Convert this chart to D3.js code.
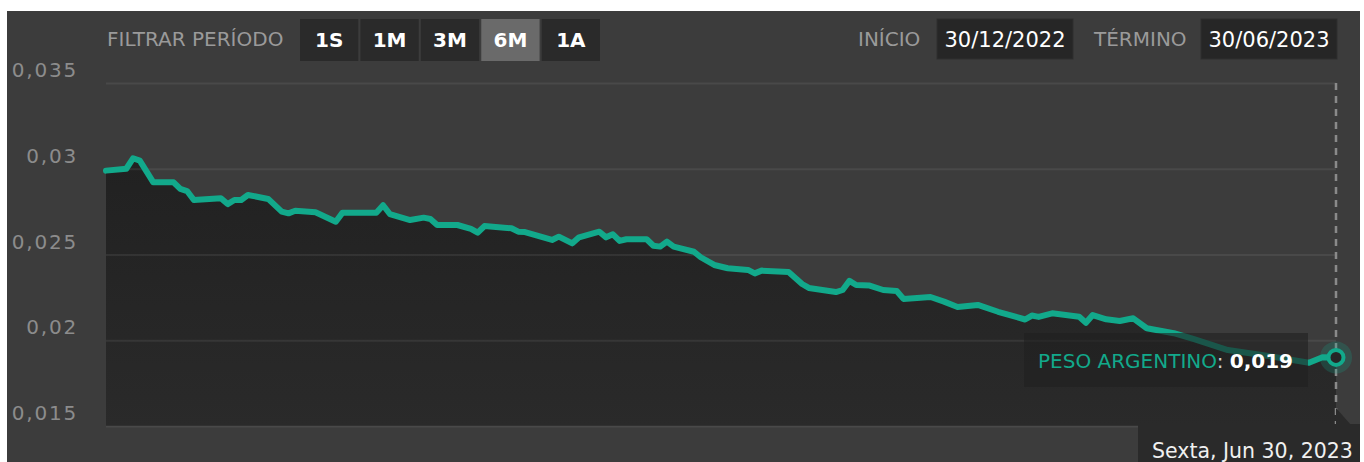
<!DOCTYPE html>
<html lang="pt-BR">
<head>
<meta charset="utf-8">
<title>Peso Argentino</title>
<script src="https://cdn.jsdelivr.net/npm/d3@7"></script>
<style>
  html, body { margin: 0; padding: 0; background: #ffffff; }
  svg { display: block; font-family: "DejaVu Sans", sans-serif; }
</style>
</head>
<body>
<div id="chart"></div>
<script>
// Daily quote of the Argentine peso (BRL per ARS), Dec 2022 - Jun 2023
const dates = [
  "2022-12-30", "2023-01-02", "2023-01-03", "2023-01-04", "2023-01-06", "2023-01-09",
  "2023-01-10", "2023-01-11", "2023-01-12", "2023-01-16", "2023-01-17", "2023-01-18",
  "2023-01-19", "2023-01-20", "2023-01-23", "2023-01-25", "2023-01-26", "2023-01-27",
  "2023-01-30", "2023-02-02", "2023-02-03", "2023-02-08", "2023-02-09", "2023-02-10",
  "2023-02-13", "2023-02-15", "2023-02-16", "2023-02-17", "2023-02-20", "2023-02-22",
  "2023-02-23", "2023-02-24", "2023-02-28", "2023-03-01", "2023-03-02", "2023-03-06",
  "2023-03-07", "2023-03-09", "2023-03-10", "2023-03-13", "2023-03-14", "2023-03-15",
  "2023-03-16", "2023-03-17", "2023-03-20", "2023-03-21", "2023-03-22", "2023-03-23",
  "2023-03-24", "2023-03-27", "2023-03-28", "2023-03-30", "2023-04-01", "2023-04-04",
  "2023-04-05", "2023-04-06", "2023-04-10", "2023-04-12", "2023-04-13", "2023-04-17",
  "2023-04-18", "2023-04-19", "2023-04-20", "2023-04-22", "2023-04-24", "2023-04-26",
  "2023-04-27", "2023-05-01", "2023-05-03", "2023-05-05", "2023-05-08", "2023-05-11",
  "2023-05-15", "2023-05-16", "2023-05-17", "2023-05-19", "2023-05-23", "2023-05-24",
  "2023-05-25", "2023-05-27", "2023-05-29", "2023-05-31", "2023-06-02", "2023-06-06",
  "2023-06-09", "2023-06-14", "2023-06-20", "2023-06-26", "2023-06-28", "2023-06-30"
];
const values = [
  0.02989, 0.03000, 0.03061, 0.03047, 0.02921, 0.02921,
  0.02882, 0.02870, 0.02818, 0.02828, 0.02794, 0.02818,
  0.02818, 0.02847, 0.02824, 0.02750, 0.02740, 0.02755,
  0.02746, 0.02691, 0.02744, 0.02744, 0.02787, 0.02736,
  0.02701, 0.02715, 0.02707, 0.02672, 0.02672, 0.02649,
  0.02627, 0.02666, 0.02653, 0.02633, 0.02631, 0.02585,
  0.02604, 0.02565, 0.02600, 0.02633, 0.02600, 0.02618,
  0.02579, 0.02589, 0.02589, 0.02551, 0.02546, 0.02575,
  0.02546, 0.02516, 0.02484, 0.02439, 0.02420, 0.02410,
  0.02390, 0.02406, 0.02398, 0.02328, 0.02305, 0.02281,
  0.02293, 0.02346, 0.02322, 0.02319, 0.02293, 0.02287,
  0.02241, 0.02252, 0.02225, 0.02194, 0.02206, 0.02166,
  0.02121, 0.02144, 0.02136, 0.02157, 0.02137, 0.02102,
  0.02147, 0.02122, 0.02112, 0.02128, 0.02070, 0.02041,
  0.02006, 0.01943, 0.01908, 0.01869, 0.01901, 0.01900
];
const yTicks = [0.015, 0.02, 0.025, 0.03, 0.035];
const periods = ["1S", "1M", "3M", "6M", "1A"];
const activePeriod = "6M";
const seriesName = "PESO ARGENTINO";
const filterLabel = "FILTRAR PERÍODO";
const startLabel = "INÍCIO";
const endLabel = "TÉRMINO";
const rangeStart = "2022-12-30";
const rangeEnd = "2023-06-30";

const W = 1364, H = 462;
const plot = { left: 106, right: 1336, top: 83, bottom: 426 };
const teal = "#12a98b";

const parse = d3.timeParse("%Y-%m-%d");
const series = dates.map((d, i) => ({ date: parse(d), value: values[i] }));
const last = series[series.length - 1];

const numLocale = d3.formatLocale({ decimal: ",", thousands: ".", grouping: [3], currency: ["R$", ""] });
const tickFmt = numLocale.format(".3~f");
const valueFmt = numLocale.format(".3f");
const timeLocale = d3.timeFormatLocale({
  dateTime: "%A, %e de %B de %Y. %X", date: "%d/%m/%Y", time: "%H:%M:%S",
  periods: ["AM", "PM"],
  days: ["Domingo", "Segunda", "Terça", "Quarta", "Quinta", "Sexta", "Sábado"],
  shortDays: ["Dom", "Seg", "Ter", "Qua", "Qui", "Sex", "Sáb"],
  months: ["Janeiro", "Fevereiro", "Março", "Abril", "Maio", "Junho", "Julho", "Agosto", "Setembro", "Outubro", "Novembro", "Dezembro"],
  shortMonths: ["Jan", "Fev", "Mar", "Abr", "Mai", "Jun", "Jul", "Ago", "Set", "Out", "Nov", "Dez"]
});
const boxDate = timeLocale.format("%d/%m/%Y");
const hoverDate = timeLocale.format("%A, %b %d, %Y");

const x = d3.scaleTime().domain([parse(rangeStart), parse(rangeEnd)]).range([plot.left, plot.right]);
const y = d3.scaleLinear().domain([0.015, 0.035]).range([plot.bottom, plot.top]);

const svg = d3.select("#chart").append("svg").attr("width", W).attr("height", H);

// panel background
svg.append("rect").attr("x", 7).attr("y", 11).attr("width", 1353).attr("height", H - 11).attr("fill", "#3c3c3c");

const defs = svg.append("defs");
const grad = defs.append("linearGradient").attr("id", "areaFill").attr("x1", 0).attr("y1", 0).attr("x2", 0).attr("y2", 1);
grad.append("stop").attr("offset", "0%").attr("stop-color", "#212121");
grad.append("stop").attr("offset", "100%").attr("stop-color", "#2a2a2a");

// area under the series
const area = d3.area().x(d => x(d.date)).y0(y(0.015)).y1(d => y(d.value));
svg.append("path").datum(series).attr("d", area).attr("fill", "url(#areaFill)");

// horizontal grid
const yAxis = d3.axisLeft(y).tickValues(yTicks).tickSize(-(plot.right - plot.left)).tickFormat("");
const grid = svg.append("g").attr("transform", `translate(${plot.left},0)`).call(yAxis);
grid.select(".domain").remove();
grid.selectAll(".tick line").attr("stroke", "rgba(255,255,255,0.07)").attr("stroke-width", 2);

// tick labels, sitting just above each grid line
svg.append("g").selectAll("text").data(yTicks).join("text")
  .attr("x", 78).attr("y", d => y(d) - 6)
  .attr("text-anchor", "end")
  .attr("font-size", 20).attr("letter-spacing", 1.8)
  .attr("fill", "#8c8c8c")
  .text(d => tickFmt(d));

// crosshair at the hovered date
svg.append("line")
  .attr("x1", x(last.date)).attr("x2", x(last.date))
  .attr("y1", plot.top).attr("y2", plot.bottom)
  .attr("stroke", "#8a8a8a").attr("stroke-width", 2.5).attr("stroke-dasharray", "7,6");

// series line
const line = d3.line().x(d => x(d.date)).y(d => y(d.value));
svg.append("path").datum(series).attr("d", line)
  .attr("fill", "none").attr("stroke", teal).attr("stroke-width", 6)
  .attr("stroke-linejoin", "round").attr("stroke-linecap", "round");

// tooltip
const tip = svg.append("g");
tip.append("rect").attr("x", 1024).attr("y", 333).attr("width", 284).attr("height", 54)
  .attr("fill", "rgba(32,32,32,0.6)");
const tipText = tip.append("text").attr("x", 1038).attr("y", 368).attr("font-size", 20);
tipText.append("tspan").attr("fill", teal).text(seriesName);
tipText.append("tspan").attr("fill", "#cfcfcf").text(": ");
tipText.append("tspan").attr("fill", "#ffffff").attr("font-weight", "bold").text(valueFmt(last.value));

// hovered point marker
svg.append("circle").attr("cx", x(last.date)).attr("cy", y(last.value)).attr("r", 16)
  .attr("fill", teal).attr("fill-opacity", 0.22);
svg.append("circle").attr("cx", x(last.date)).attr("cy", y(last.value)).attr("r", 7.5)
  .attr("fill", "#262626").attr("stroke", teal).attr("stroke-width", 4);

// date flag under the crosshair
const xc = x(last.date);
svg.append("path")
  .attr("d", `M${xc},408 L${xc},425 L${xc + 15},425 Z`)
  .attr("fill", "#2a2a2a");
svg.append("rect").attr("x", 1138).attr("y", 424).attr("width", 222).attr("height", H - 424).attr("fill", "#2a2a2a");
svg.append("text").attr("x", 1152).attr("y", 458).attr("font-size", 20.5).attr("fill", "#f0f0f0")
  .text(hoverDate(last.date));

// header: period filter
svg.append("text").attr("x", 107).attr("y", 46).attr("font-size", 20).attr("fill", "#9a9a9a").text(filterLabel);
const band = d3.scaleBand().domain(periods).range([300, 600]).paddingInner(0.035);
const btn = svg.append("g").selectAll("g").data(periods).join("g")
  .attr("transform", d => `translate(${band(d)},19)`);
btn.append("rect").attr("width", band.bandwidth()).attr("height", 42)
  .attr("fill", d => d === activePeriod ? "#6a6a6a" : "#2a2a2a");
btn.append("text").attr("x", band.bandwidth() / 2).attr("y", 28)
  .attr("text-anchor", "middle").attr("font-size", 20).attr("font-weight", "bold")
  .attr("fill", "#ffffff").text(d => d);

// header: date range
function rangeField(label, labelX, boxX, dateStr) {
  svg.append("text").attr("x", labelX).attr("y", 46).attr("font-size", 20).attr("fill", "#9a9a9a").text(label);
  svg.append("rect").attr("x", boxX).attr("y", 19).attr("width", 136).attr("height", 40)
    .attr("fill", "#262626").attr("stroke", "#2e2e2e");
  svg.append("text").attr("x", boxX + 68).attr("y", 47).attr("text-anchor", "middle")
    .attr("font-size", 21).attr("fill", "#ffffff").text(boxDate(parse(dateStr)));
}
rangeField(startLabel, 858, 937, rangeStart);
rangeField(endLabel, 1094, 1201, rangeEnd);
</script>
</body>
</html>
